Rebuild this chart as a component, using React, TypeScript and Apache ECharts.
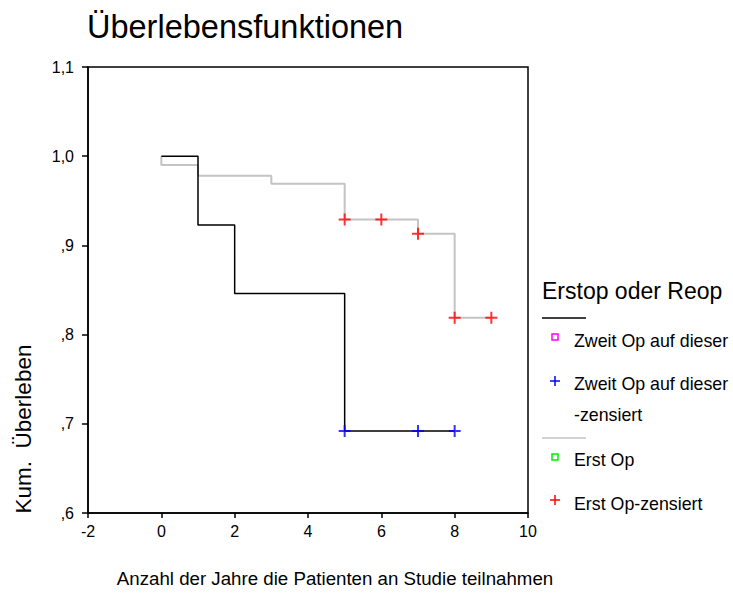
import React, { useEffect, useRef } from "react";
import * as echarts from "echarts";

// Data
const zweitTimes = [0, 1, 2, 5, 8];
const zweitSurv = [1.0, 0.923, 0.846, 0.692, 0.692];
const zweitCensTimes = [5, 7, 8];
const zweitCensSurv = [0.692, 0.692, 0.692];

const erstTimes = [0, 0, 1, 3, 5, 7, 8, 9];
const erstSurv = [1.0, 0.99, 0.978, 0.969, 0.929, 0.913, 0.819, 0.819];
const erstCensTimes = [5, 6, 7, 8, 9];
const erstCensSurv = [0.929, 0.929, 0.913, 0.819, 0.819];

const xTicks = [-2, 0, 2, 4, 6, 8, 10];
const yTicks = [0.6, 0.7, 0.8, 0.9, 1.0, 1.1];

const titleText = "Überlebensfunktionen";
const xName = "Anzahl der Jahre die Patienten an Studie teilnahmen";
const yName = "Kum.  Überleben";
const legendTitle = "Erstop oder Reop";
const legendItems = [
  "Zweit Op auf dieser",
  "Zweit Op auf dieser",
  "-zensiert",
  "Erst Op",
  "Erst Op-zensiert",
];

const FONT = "Liberation Sans, Arial, Helvetica, sans-serif";
const PLUS = "path://M5,0H7V5H12V7H7V12H5V7H0V5H5Z";

const zip = (a: number[], b: number[]) => a.map((v, i) => [v, b[i]]);

export default function App() {
  const ref = useRef<HTMLDivElement>(null);
  useEffect(() => {
    if (!ref.current) return;
    const chart = echarts.init(ref.current, undefined, { renderer: "svg" });
    const fmtY = (v: number) => {
      let s = v.toFixed(1).replace(".", ",");
      if (s.startsWith("0,")) s = s.slice(1);
      return s;
    };
    const itemFont = `17.8px ${FONT}`;
    chart.setOption({
      animation: false,
      backgroundColor: "#fff",
      textStyle: { fontFamily: FONT },
      grid: {
        left: 88,
        right: 205,
        top: 67,
        bottom: 88,
        show: true,
        borderColor: "#000",
        borderWidth: 1.5,
        backgroundColor: "transparent",
      },
      xAxis: {
        type: "value",
        min: xTicks[0],
        max: xTicks[xTicks.length - 1],
        interval: 2,
        axisLine: { show: true, onZero: false, lineStyle: { color: "#000", width: 1.5 } },
        axisTick: { show: true, inside: false, length: 5, lineStyle: { color: "#000", width: 1.5 } },
        axisLabel: { color: "#000", fontSize: 16, fontFamily: FONT, margin: 10 },
        splitLine: { show: false },
      },
      yAxis: {
        type: "value",
        min: yTicks[0],
        max: yTicks[yTicks.length - 1],
        interval: 0.1,
        axisLine: { show: true, onZero: false, lineStyle: { color: "#000", width: 1.5 } },
        axisTick: { show: true, inside: false, length: 6, lineStyle: { color: "#000", width: 1.5 } },
        axisLabel: { color: "#000", fontSize: 16, fontFamily: FONT, margin: 14, formatter: fmtY },
        splitLine: { show: false },
      },
      series: [
        {
          type: "line",
          step: "end",
          data: zip(erstTimes, erstSurv),
          symbol: "none",
          lineStyle: { color: "#c4c4c4", width: 2 },
          z: 2,
        },
        {
          type: "line",
          step: "end",
          data: zip(zweitTimes, zweitSurv),
          symbol: "none",
          lineStyle: { color: "#000", width: 1.5 },
          z: 3,
        },
        {
          type: "scatter",
          data: zip(zweitCensTimes, zweitCensSurv),
          symbol: PLUS,
          symbolSize: 12,
          itemStyle: { color: "#0000ff" },
          z: 4,
        },
        {
          type: "scatter",
          data: zip(erstCensTimes, erstCensSurv),
          symbol: PLUS,
          symbolSize: 12,
          itemStyle: { color: "#ff0000" },
          z: 4,
        },
      ],
      graphic: [
        {
          type: "text",
          x: 87,
          y: 27,
          style: { text: titleText, font: `32.5px ${FONT}`, fill: "#000", verticalAlign: "middle" },
        },
        {
          type: "text",
          x: 335,
          y: 578,
          style: { text: xName, font: `18.7px ${FONT}`, fill: "#000", align: "center", verticalAlign: "middle" },
        },
        {
          type: "text",
          x: 23,
          y: 429,
          rotation: Math.PI / 2,
          style: { text: yName, font: `22.5px ${FONT}`, fill: "#000", align: "center", verticalAlign: "middle" },
        },
        {
          type: "text",
          x: 542,
          y: 291,
          style: { text: legendTitle, font: `23px ${FONT}`, fill: "#000", verticalAlign: "middle" },
        },
        { type: "line", shape: { x1: 542, y1: 318, x2: 586, y2: 318 }, style: { stroke: "#000", lineWidth: 1.5 } },
        { type: "rect", shape: { x: 552, y: 334, width: 6, height: 6 }, style: { fill: "none", stroke: "#ff00ff", lineWidth: 1.5 } },
        { type: "text", x: 574, y: 341, style: { text: legendItems[0], font: itemFont, fill: "#000", verticalAlign: "middle" } },
        { type: "line", shape: { x1: 550, y1: 381, x2: 560, y2: 381 }, style: { stroke: "#0000ff", lineWidth: 1.5 } },
        { type: "line", shape: { x1: 555, y1: 376, x2: 555, y2: 386 }, style: { stroke: "#0000ff", lineWidth: 1.5 } },
        { type: "text", x: 574, y: 384, style: { text: legendItems[1], font: itemFont, fill: "#000", verticalAlign: "middle" } },
        { type: "text", x: 574, y: 415, style: { text: legendItems[2], font: itemFont, fill: "#000", verticalAlign: "middle" } },
        { type: "line", shape: { x1: 542, y1: 438, x2: 586, y2: 438 }, style: { stroke: "#c4c4c4", lineWidth: 1.5 } },
        { type: "rect", shape: { x: 552, y: 454, width: 6, height: 6 }, style: { fill: "none", stroke: "#00ee00", lineWidth: 1.5 } },
        { type: "text", x: 574, y: 460, style: { text: legendItems[3], font: itemFont, fill: "#000", verticalAlign: "middle" } },
        { type: "line", shape: { x1: 550, y1: 500, x2: 560, y2: 500 }, style: { stroke: "#ff0000", lineWidth: 1.5 } },
        { type: "line", shape: { x1: 555, y1: 495, x2: 555, y2: 505 }, style: { stroke: "#ff0000", lineWidth: 1.5 } },
        { type: "text", x: 574, y: 504, style: { text: legendItems[4], font: itemFont, fill: "#000", verticalAlign: "middle" } },
      ],
    });
    return () => chart.dispose();
  }, []);
  return (
    <div
      ref={ref}
      style={{ position: "absolute", left: 0, top: 0, width: 733, height: 601 }}
    />
  );
}
